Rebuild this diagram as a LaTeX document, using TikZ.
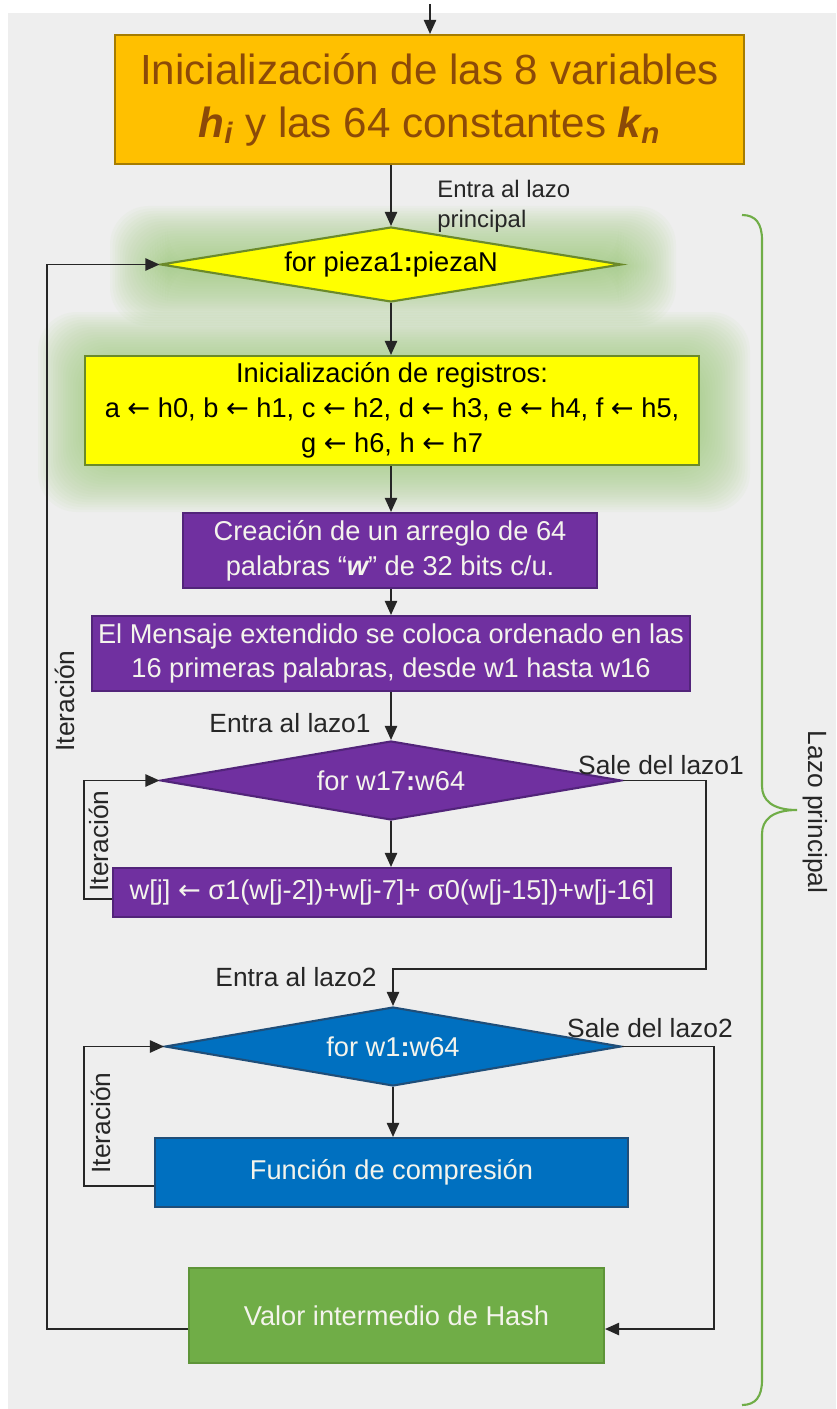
\documentclass[tikz,border=0pt]{standalone}
\usepackage{fontspec}
\setmainfont{Liberation Sans}
\newfontfamily\flechas{DejaVu Sans}
\usetikzlibrary{shapes.geometric,arrows.meta,calc}

\definecolor{fondo}{HTML}{EEEEEE}
\definecolor{naranja}{HTML}{FFC000}
\definecolor{naranjaborde}{HTML}{A67C00}
\definecolor{cafe}{HTML}{8C4A08}
\definecolor{amarillo}{HTML}{FFFF00}
\definecolor{olivo}{HTML}{6B8A2A}
\definecolor{brillo}{HTML}{9CCB78}
\definecolor{morado}{HTML}{7030A0}
\definecolor{moradoborde}{HTML}{52247A}
\definecolor{azul}{HTML}{0070C0}
\definecolor{azulborde}{HTML}{1F4E79}
\definecolor{verde}{HTML}{70AD47}
\definecolor{verdeborde}{HTML}{5E9438}
\definecolor{claro}{HTML}{F4F4EC}

% assignment arrow used inside the boxes
\newcommand{\asig}{{\flechas ←}}

\begin{document}
\begin{tikzpicture}[x=0.02cm,y=-0.02cm,>={Triangle[length=8pt,width=7pt]},
  caja/.style={draw,line width=1.2pt,inner sep=0pt,align=center,
    font=\fontsize{15.5}{19.8}\selectfont},
  rombo/.style={diamond,draw,line width=1.2pt,inner sep=0pt,aspect=6,
    align=center,font=\fontsize{15.5}{19.8}\selectfont},
  flecha/.style={->,line width=0.9pt,black!85},
  etiqueta/.style={font=\fontsize{15}{18}\selectfont,inner sep=0pt,text=black!85}]

  % Page and background
  \useasboundingbox (0,0) rectangle (836,1409);
  \fill[white] (0,0) rectangle (836,1409);
  \fill[fondo] (8,13) rectangle (836,1409);

%%%%%%%%%%%%%%%%%%%%%%%%%%%%%%%%%%%%%%%%%%
  % Green glow behind the main loop head
  \foreach \k in {0,...,23} {
    \fill[brillo,opacity=0.05,rounded corners=22pt]
      ({110+2.5*\k},{206+2.5*\k}) rectangle ({676-2.5*\k},{326-2.5*\k});
    \fill[brillo,opacity=0.05,rounded corners=22pt]
      ({38+2.5*\k},{312+2.5*\k}) rectangle ({750-2.5*\k},{512-2.5*\k});
  }

%%%%%%%%%%%%%%%%%%%%%%%%%%%%%%%%%%%%%%%%%%
  % Boxes and decisions
  \node[caja,fill=naranja,draw=naranjaborde,text=cafe,minimum width=12.58cm,
    minimum height=2.58cm,font=\fontsize{24}{30}\selectfont] (ini) at (429.5,99.5)
    {Inicialización de las 8 variables\\
     {\bfseries\itshape h\textsubscript{i}} y las 64 constantes
     {\bfseries\itshape k\textsubscript{n}}};

  \node[rombo,fill=amarillo,draw=olivo,minimum width=9.22cm,minimum height=1.5cm]
    (pieza) at (391,264.5) {for pieza1{\bfseries :}piezaN};

  \node[caja,fill=amarillo,draw=olivo,minimum width=12.28cm,minimum height=2.18cm]
    (reg) at (392,410.5)
    {Inicialización de registros:\\
     a \asig{} h0, b \asig{} h1, c \asig{} h2, d \asig{} h3, e \asig{} h4, f \asig{} h5,\\
     g \asig{} h6, h \asig{} h7};

  \node[caja,fill=morado,draw=moradoborde,text=claro,minimum width=8.28cm,
    minimum height=1.5cm] (arreglo) at (390,550.5)
    {Creación de un arreglo de 64\\
     palabras “{\bfseries\itshape w}” de 32 bits c/u.};

  \node[caja,fill=morado,draw=moradoborde,text=claro,minimum width=11.96cm,
    minimum height=1.5cm] (msg) at (391,653.5)
    {El Mensaje extendido se coloca ordenado en las\\
     16 primeras palabras, desde w1 hasta w16};

  \node[rombo,fill=morado,draw=moradoborde,text=claro,minimum width=9.22cm,
    minimum height=1.58cm] (lazo1) at (391,780.5) {for w17{\bfseries :}w64};

  \node[caja,fill=morado,draw=moradoborde,text=claro,minimum width=11.16cm,
    minimum height=0.98cm] (wj) at (392,892.5)
    {w[j] \asig{} σ1(w[j-2])+w[j-7]+ σ0(w[j-15])+w[j-16]};

  \node[rombo,fill=azul,draw=azulborde,text=claro,minimum width=9.12cm,
    minimum height=1.58cm] (lazo2) at (393,1046.5) {for w1{\bfseries :}w64};

  \node[caja,fill=azul,draw=azulborde,text=claro,minimum width=9.46cm,
    minimum height=1.38cm] (comp) at (391.5,1172.5) {Función de compresión};

  \node[caja,fill=verde,draw=verdeborde,text=claro,minimum width=8.3cm,
    minimum height=1.9cm] (hash) at (396.5,1315.5) {Valor intermedio de Hash};

%%%%%%%%%%%%%%%%%%%%%%%%%%%%%%%%%%%%%%%%%%
  % Straight flow
  \coordinate (entrada) at (430,4);
  \draw[flecha] (entrada) -- (entrada |- ini.north);
  \draw[flecha] (pieza.north |- ini.south) -- (pieza.north);
  \draw[flecha] (pieza.south) -- (pieza.south |- reg.north);
  \draw[flecha] (pieza.south |- reg.south) -- (pieza.south |- arreglo.north);
  \draw[flecha] (pieza.south |- arreglo.south) -- (pieza.south |- msg.north);
  \draw[flecha] (pieza.south |- msg.south) -- (pieza.south |- lazo1.north);
  \draw[flecha] (lazo1.south) -- (lazo1.south |- wj.north);
  \draw[flecha] (lazo2.south) -- (lazo2.south |- comp.north);

  % Exits of both inner loops
  \coordinate (sale1) at (706,969);
  \coordinate (sale2) at (714,1329);
  \draw[flecha] (lazo1.east) -| (sale1) -| (lazo2.north);
  \draw[flecha] (lazo2.east) -| (sale2) -- (sale2 -| hash.east);

  % Iterations
  \draw[flecha] ($(wj.west)+(0,6.5)$) -- ++(-28,0) |- (lazo1.west);
  \draw[flecha] ($(comp.west)+(0,13.5)$) -- ++(-70,0) |- (lazo2.west);
  \draw[flecha] ($(hash.west)+(0,13.5)$) -- ++(-141,0) |- (pieza.west);

%%%%%%%%%%%%%%%%%%%%%%%%%%%%%%%%%%%%%%%%%%
  % Labels
  \node[etiqueta,anchor=base west,align=left,font=\fontsize{13.6}{17.6}\selectfont]
    (txtppal) at (437,228) {Entra al lazo\\principal};
  \node[etiqueta] (txtent1) at (290,723) {Entra al lazo1};
  \node[etiqueta] (txtsal1) at (661,765) {Sale del lazo1};
  \node[etiqueta] (txtent2) at (296,977) {Entra al lazo2};
  \node[etiqueta] (txtsal2) at (650,1028) {Sale del lazo2};
  \node[etiqueta,rotate=90] (iter) at (65,701) {Iteración};
  \node[etiqueta,rotate=90] (iter1) at (99,841) {Iteración};
  \node[etiqueta,rotate=90] (iter2) at (101,1123) {Iteración};

  % Brace around the main loop
  \draw[verde,line width=1.2pt]
    (742,215) .. controls (756,215) and (762,224) .. (762,240) -- (762,786)
    .. controls (762,800) and (772,810) .. (797,810)
    .. controls (772,810) and (762,820) .. (762,834) -- (762,1380)
    .. controls (762,1396) and (756,1405) .. (742,1405);
  \node[etiqueta,rotate=-90] (txtlazo) at (815,812) {Lazo principal};

\end{tikzpicture}
\end{document}
